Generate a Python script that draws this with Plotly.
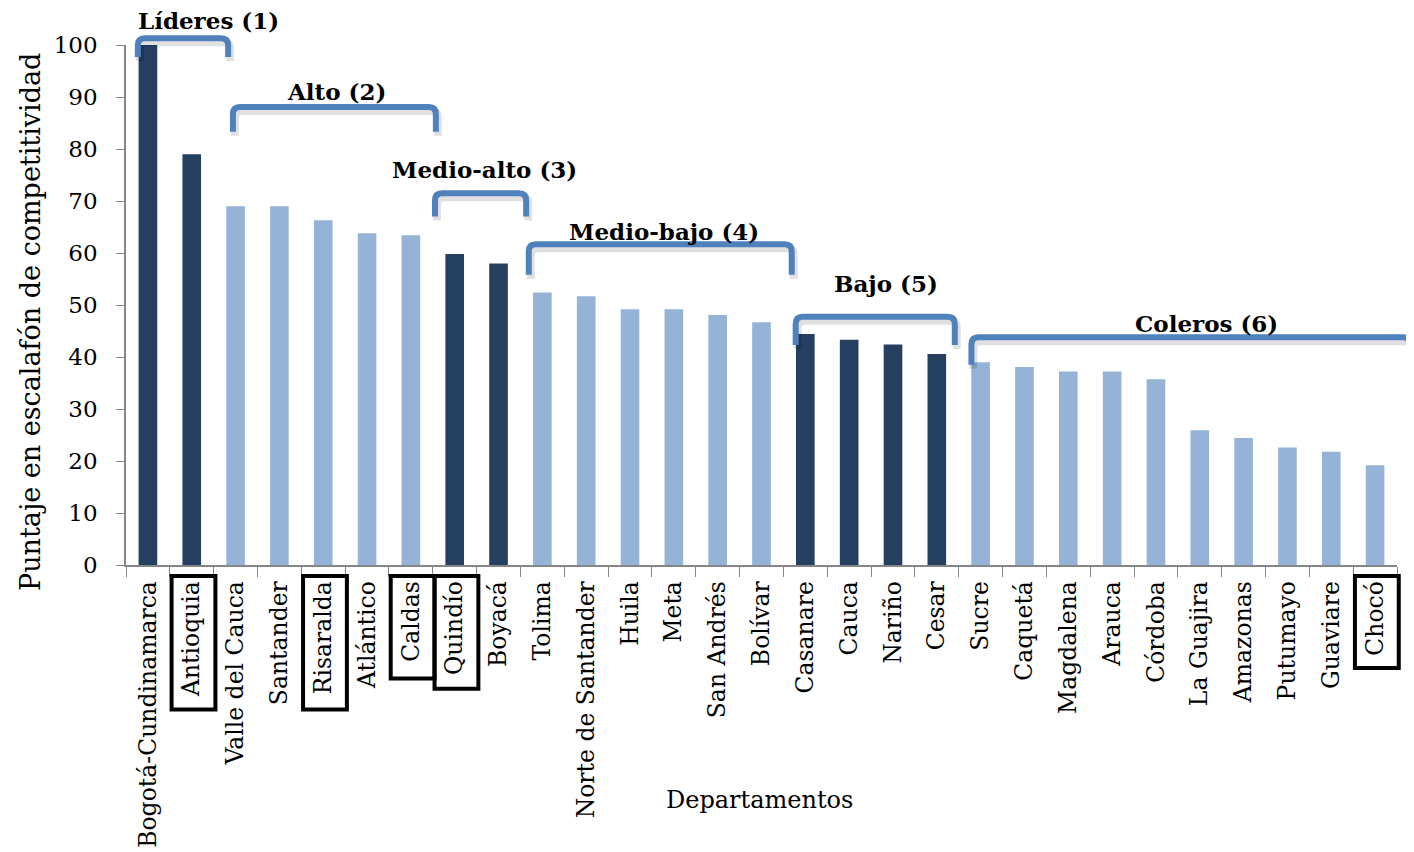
import plotly.graph_objects as go

# Escalafón de competitividad departamental
departamentos = [
    "Bogotá-Cundinamarca", "Antioquia", "Valle del Cauca", "Santander", "Risaralda",
    "Atlántico", "Caldas", "Quindío", "Boyacá", "Tolima", "Norte de Santander",
    "Huila", "Meta", "San Andrés", "Bolívar", "Casanare", "Cauca", "Nariño", "Cesar",
    "Sucre", "Caquetá", "Magdalena", "Arauca", "Córdoba", "La Guajira", "Amazonas",
    "Putumayo", "Guaviare", "Chocó",
]
puntajes = [
    100.0, 79.0, 69.0, 69.0, 66.3, 63.8, 63.4, 59.8, 58.0, 52.4, 51.7, 49.2, 49.2,
    48.1, 46.7, 44.4, 43.3, 42.4, 40.6, 39.0, 38.1, 37.2, 37.2, 35.7, 25.9, 24.4,
    22.6, 21.8, 19.2,
]
niveles = [1, 1, 2, 2, 2, 2, 2, 3, 3, 4, 4, 4, 4, 4, 4, 5, 5, 5, 5,
           6, 6, 6, 6, 6, 6, 6, 6, 6, 6]
nombres_nivel = ["Líderes (1)", "Alto (2)", "Medio-alto (3)", "Medio-bajo (4)",
                 "Bajo (5)", "Coleros (6)"]
recuadros = ["Antioquia", "Risaralda", "Caldas", "Quindío", "Chocó"]

# llaves dibujadas a mano sobre cada nivel (en unidades de los ejes)
llave_x0 = [-0.23, 1.94, 6.55, 8.69, 14.78, 18.79]
llave_x1 = [1.83, 6.57, 8.63, 14.69, 18.41, 28.79]
llave_arriba = [101.3, 88.1, 71.5, 61.7, 47.75, 43.8]
llave_abajo = [97.7, 83.3, 67.0, 55.8, 42.3, 38.5]
etiqueta_x = [1.39, 4.31, 7.67, 11.77, 16.84, 24.16]
etiqueta_y = [104.8, 91.0, 76.0, 64.2, 54.2, 46.5]

OSCURO = "#243F60"
CLARO = "#95B3D7"
AZUL_LLAVE = "#4F81BD"
FUENTE = "DejaVu Serif"

# la página deja 8 px de margen alrededor de la figura
W, H = 1406, 844
M_L, M_R, M_T, M_B = 118, 17, 37, 287
PW, PH = W - M_L - M_R, H - M_T - M_B
N = len(departamentos)


def xp(v):
    return (v + 0.5) / N


def yp(v):
    return v / 100.0


colores = [OSCURO if n % 2 == 1 else CLARO for n in niveles]

fig = go.Figure()
fig.add_trace(go.Bar(
    x=departamentos, y=puntajes,
    marker=dict(color=colores, line=dict(width=0)),
    hoverinfo="x+y",
))

shapes = []
annotations = []
rx, ry = 7 / PW, 7 / PH
for i, nombre in enumerate(nombres_nivel):
    x0, x1 = xp(llave_x0[i]), xp(llave_x1[i])
    yt, yb = yp(llave_arriba[i]), yp(llave_abajo[i])
    path = (f"M {x0},{yb} L {x0},{yt - ry} Q {x0},{yt} {x0 + rx},{yt} "
            f"L {x1 - rx},{yt} Q {x1},{yt} {x1},{yt - ry} L {x1},{yb}")
    # sombra
    dx, dy = 2 / PW, -4 / PH
    sombra = (f"M {x0 + dx},{yb + dy} L {x0 + dx},{yt - ry + dy} Q {x0 + dx},{yt + dy} {x0 + rx + dx},{yt + dy} "
              f"L {x1 - rx + dx},{yt + dy} Q {x1 + dx},{yt + dy} {x1 + dx},{yt - ry + dy} L {x1 + dx},{yb + dy}")
    shapes.append(dict(type="path", path=sombra, xref="paper", yref="paper",
                       line=dict(color="rgba(0,0,0,0.12)", width=8), layer="above"))
    shapes.append(dict(type="path", path=path, xref="paper", yref="paper",
                       line=dict(color=AZUL_LLAVE, width=6), layer="above"))
    annotations.append(dict(
        text=f"<b>{nombre}</b>", x=xp(etiqueta_x[i]), y=yp(etiqueta_y[i]),
        xref="paper", yref="paper", showarrow=False, xanchor="center", yanchor="middle",
        font=dict(family=FUENTE, size=23, color="black"),
    ))

# recuadros alrededor de algunos nombres
for nombre in recuadros:
    idx = departamentos.index(nombre)
    alto = 40 + 10.4 * len(nombre)
    shapes.append(dict(
        type="rect", xref="paper", yref="paper",
        x0=(idx + 0.04) / N, x1=(idx + 1.04) / N,
        y0=-11 / PH, y1=-(11 + alto) / PH,
        line=dict(color="black", width=4), fillcolor="rgba(0,0,0,0)",
    ))

annotations.append(dict(
    text="Departamentos", x=(759 - 126) / PW, y=(565 - 800) / PH,
    xref="paper", yref="paper", showarrow=False, xanchor="center", yanchor="middle",
    font=dict(family=FUENTE, size=24, color="black"),
))
annotations.append(dict(
    text="Puntaje en escalafón de competitividad", x=(30 - 126) / PW, y=(565 - 322) / PH,
    xref="paper", yref="paper", showarrow=False, xanchor="center", yanchor="middle",
    textangle=-90, font=dict(family=FUENTE, size=27, color="black"),
))

fig.update_layout(
    width=W, height=H,
    margin=dict(l=M_L, r=M_R, t=M_T, b=M_B, autoexpand=False),
    paper_bgcolor="white", plot_bgcolor="white",
    bargap=0.575, showlegend=False,
    shapes=shapes, annotations=annotations,
    font=dict(family=FUENTE, color="black"),
)
fig.update_xaxes(
    type="category", range=[-0.5, N - 0.5], tickangle=-90, automargin=False,
    tickson="boundaries", ticks="outside", ticklen=10, tickcolor="#868686",
    showline=True, linecolor="#868686", linewidth=1.5, showgrid=False,
    tickfont=dict(family=FUENTE, size=23.5, color="black"), ticklabelstandoff=5,
)
fig.update_yaxes(
    range=[0, 100], dtick=10, ticks="outside", ticklen=8, tickcolor="#868686",
    showline=True, linecolor="#868686", linewidth=1.5, showgrid=False, zeroline=False,
    automargin=False,
    tickfont=dict(family=FUENTE, size=23, color="black"), ticklabelstandoff=14,
)

fig.write_html("out.html")
